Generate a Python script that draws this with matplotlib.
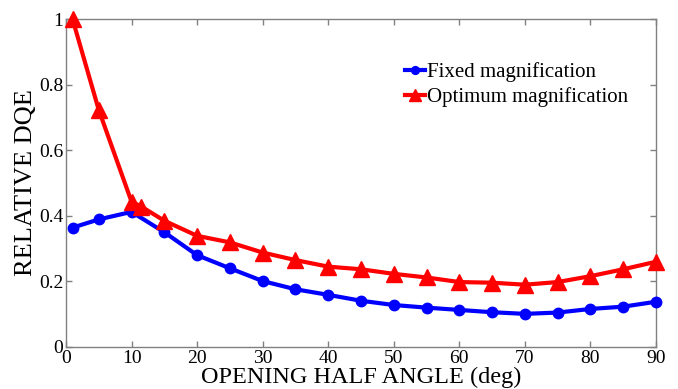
import matplotlib
matplotlib.use('Agg')

import matplotlib.pyplot as plt

# Data
angle_fixed = [1, 5, 10, 15, 20, 25, 30, 35, 40, 45, 50, 55, 60, 65, 70, 75, 80, 85, 90]
dqe_fixed = [0.364, 0.389, 0.412, 0.350, 0.280, 0.240, 0.201, 0.176, 0.159, 0.141,
             0.128, 0.120, 0.113, 0.106, 0.101, 0.105, 0.116, 0.123, 0.138]

angle_opt = [1, 5, 10, 11.5, 15, 20, 25, 30, 35, 40, 45, 50, 55, 60, 65, 70, 75, 80, 85, 90]
dqe_opt = [1.0, 0.723, 0.443, 0.428, 0.385, 0.339, 0.319, 0.288, 0.265, 0.245, 0.237,
           0.223, 0.212, 0.198, 0.196, 0.190, 0.198, 0.216, 0.237, 0.260]

xticks = [0, 10, 20, 30, 40, 50, 60, 70, 80, 90]
yticks = [0, 0.2, 0.4, 0.6, 0.8, 1]
ytick_labels = ["0", "0.2", "0.4", "0.6", "0.8", "1"]

plt.rcParams['font.family'] = ['Liberation Serif', 'DejaVu Serif']

fig = plt.figure(figsize=(6.78, 3.89), dpi=100)
ax = fig.add_axes([0.0973, 0.108, 0.8703, 0.843])

ax.plot(angle_fixed, dqe_fixed, color='#0000ff', linewidth=3, marker='o',
        markersize=7.5, label='Fixed magnification', clip_on=False, zorder=3)
ax.plot(angle_opt, dqe_opt, color='#ff0000', linewidth=3, marker='^',
        markersize=11, label='Optimum magnification', clip_on=False, zorder=4)

ax.set_xlim(0, 90)
ax.set_ylim(0, 1)
ax.set_xticks(xticks)
ax.set_yticks(yticks)
ax.set_yticklabels(ytick_labels)

for s in ax.spines.values():
    s.set_color('#808080')
    s.set_linewidth(1.0)
ax.tick_params(direction='in', top=True, right=True, length=4, width=1,
               color='#808080', labelsize=14, pad=2)

ax.set_xlabel('OPENING HALF ANGLE (deg)', fontsize=17.5, labelpad=0)
ax.set_ylabel('RELATIVE DQE', fontsize=19, labelpad=1)

ax.legend(loc='upper left', bbox_to_anchor=(0.575, 0.868), frameon=False,
          fontsize=15, handlelength=0.95, handletextpad=0.1, borderaxespad=0,
          borderpad=0, labelspacing=0.25, markerscale=0.75)

plt.savefig('out.png', dpi=100)
